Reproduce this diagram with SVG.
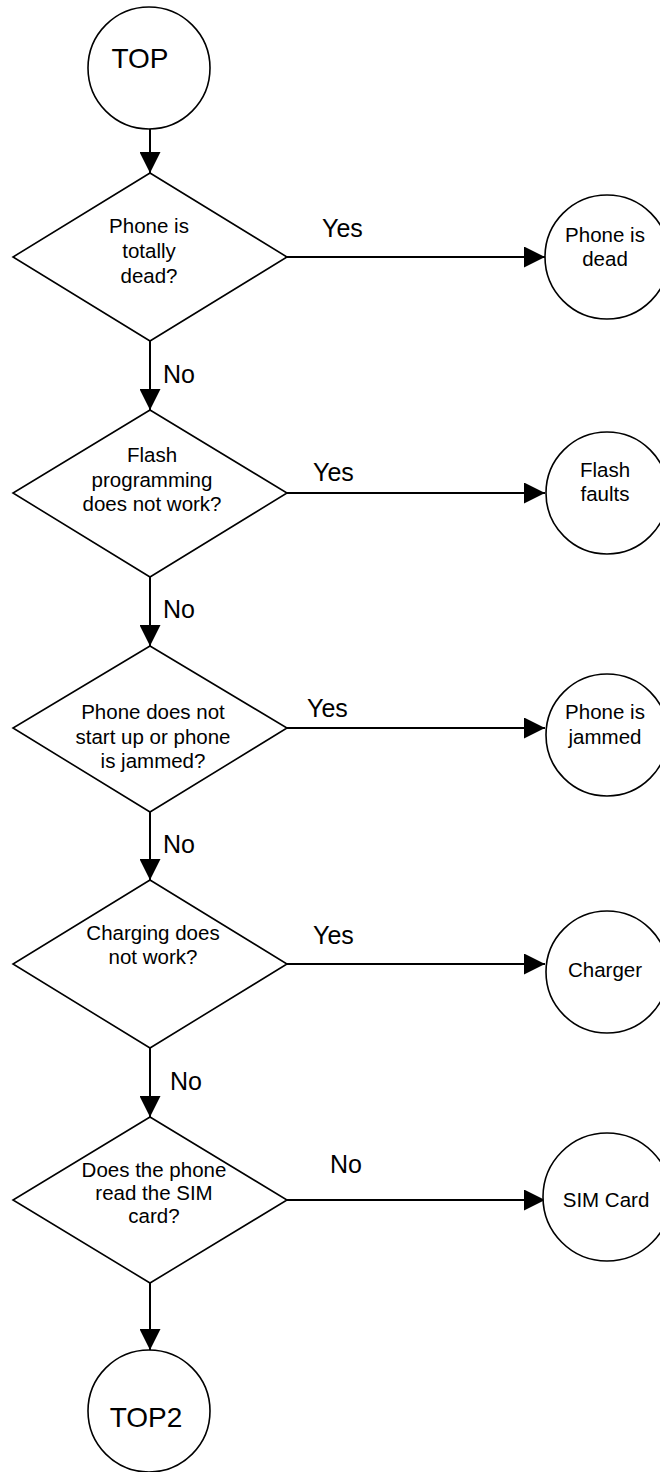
<svg xmlns="http://www.w3.org/2000/svg" width="660" height="1472" viewBox="0 0 660 1472">
<style>
  .shape { fill: #ffffff; stroke: #000000; stroke-width: 1.6; }
  .conn { fill: none; stroke: #000000; stroke-width: 2; marker-end: url(#arrow); }
  text { font-family: "Liberation Sans", Arial, sans-serif; fill: #000000; }
  .t { font-size: 20.5px; text-anchor: middle; }
  .big { font-size: 28px; text-anchor: middle; }
  .lbl { font-size: 25px; }
</style>
<defs>
  <marker id="arrow" viewBox="0 0 20 20" refX="20" refY="10" markerWidth="21" markerHeight="21" markerUnits="userSpaceOnUse" orient="auto">
    <path d="M0,0 L20,10 L0,20 z" fill="#000000"/>
  </marker>
</defs>
<rect width="660" height="1472" fill="#ffffff"/>

<g id="connectors">
  <line class="conn" x1="150" y1="129" x2="150" y2="173"/>
  <line class="conn" x1="150" y1="341" x2="150" y2="410"/>
  <line class="conn" x1="150" y1="577" x2="150" y2="646"/>
  <line class="conn" x1="150" y1="812" x2="150" y2="880"/>
  <line class="conn" x1="150" y1="1048" x2="150" y2="1117"/>
  <line class="conn" x1="150" y1="1283" x2="150" y2="1350"/>
  <line class="conn" x1="287" y1="257" x2="545" y2="257"/>
  <line class="conn" x1="287" y1="493" x2="545" y2="493"/>
  <line class="conn" x1="287" y1="728" x2="545" y2="728"/>
  <line class="conn" x1="287" y1="964" x2="545" y2="964"/>
  <line class="conn" x1="287" y1="1200" x2="545" y2="1200"/>
  <text class="lbl" x="163" y="383">No</text>
  <text class="lbl" x="163" y="618">No</text>
  <text class="lbl" x="163" y="853">No</text>
  <text class="lbl" x="170" y="1090">No</text>
  <text class="lbl" x="322" y="237">Yes</text>
  <text class="lbl" x="313" y="481">Yes</text>
  <text class="lbl" x="307" y="717">Yes</text>
  <text class="lbl" x="313" y="944">Yes</text>
  <text class="lbl" x="330" y="1173">No</text>
</g>

<g id="top">
  <circle class="shape" cx="149" cy="68" r="61"/>
  <text class="big" x="140" y="68">TOP</text>
</g>

<g id="d1">
  <polygon class="shape" points="150,173 287,257 150,341 13,257"/>
  <text class="t" x="149" y="233">Phone is</text>
  <text class="t" x="149" y="258">totally</text>
  <text class="t" x="149" y="283">dead?</text>
</g>

<g id="d2">
  <polygon class="shape" points="150,410 287,493 150,577 13,493"/>
  <text class="t" x="152" y="462">Flash</text>
  <text class="t" x="152" y="487">programming</text>
  <text class="t" x="152" y="511">does not work?</text>
</g>

<g id="d3">
  <polygon class="shape" points="150,646 287,728 150,812 13,728"/>
  <text class="t" x="153" y="719">Phone does not</text>
  <text class="t" x="153" y="744">start up or phone</text>
  <text class="t" x="153" y="768">is jammed?</text>
</g>

<g id="d4">
  <polygon class="shape" points="150,880 287,964 150,1048 13,964"/>
  <text class="t" x="153" y="940">Charging does</text>
  <text class="t" x="153" y="964">not work?</text>
</g>

<g id="d5">
  <polygon class="shape" points="150,1117 287,1200 150,1283 13,1200"/>
  <text class="t" x="154" y="1177">Does the phone</text>
  <text class="t" x="154" y="1200">read the SIM</text>
  <text class="t" x="154" y="1223">card?</text>
</g>

<g id="dead">
  <circle class="shape" cx="607" cy="257" r="62"/>
  <text class="t" x="605" y="242">Phone is</text>
  <text class="t" x="605" y="266">dead</text>
</g>

<g id="flash">
  <circle class="shape" cx="607" cy="493" r="61"/>
  <text class="t" x="605" y="477">Flash</text>
  <text class="t" x="605" y="501">faults</text>
</g>

<g id="jammed">
  <circle class="shape" cx="607" cy="735" r="61"/>
  <text class="t" x="605" y="719">Phone is</text>
  <text class="t" x="605" y="744">jammed</text>
</g>

<g id="charger">
  <circle class="shape" cx="607" cy="972" r="61"/>
  <text class="t" x="605" y="977">Charger</text>
</g>

<g id="sim">
  <circle class="shape" cx="607" cy="1197" r="64"/>
  <text class="t" x="606" y="1207">SIM Card</text>
</g>

<g id="top2">
  <circle class="shape" cx="149" cy="1411" r="61"/>
  <text class="big" x="146" y="1427">TOP2</text>
</g>
</svg>
